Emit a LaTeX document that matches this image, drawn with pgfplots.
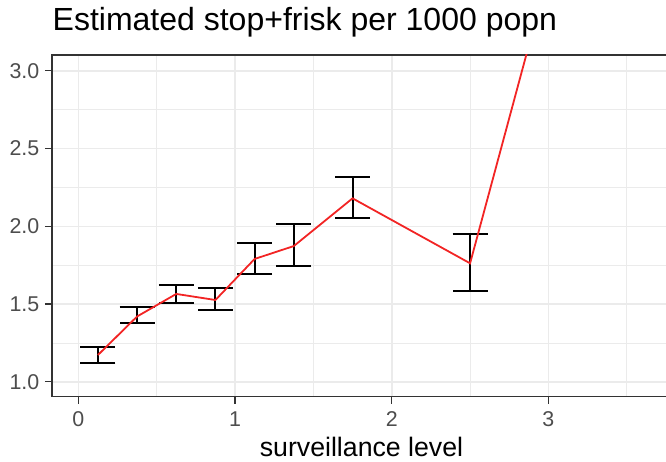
\documentclass[border=0pt]{standalone}
\usepackage{fontspec}
\setmainfont{Liberation Sans}
\usepackage{pgfplots}
\usepackage{pgfplotstable}
\pgfplotsset{compat=1.18}

\definecolor{gridgrey}{HTML}{EBEBEB}
\definecolor{bordergrey}{HTML}{333333}
\definecolor{ticktext}{HTML}{4D4D4D}
\definecolor{lineRed}{HTML}{F22424}

% surveillance level, estimate, upper and lower half-widths of the interval
\pgfplotstableread{
x     y      ep     em
0.125 1.172  0.054  0.053
0.375 1.420  0.063  0.044
0.625 1.565  0.059  0.056
0.875 1.526  0.075  0.064
1.125 1.790  0.101  0.099
1.375 1.873  0.142  0.130
1.750 2.180  0.137  0.125
2.500 1.762  0.188  0.180
3.500 5.500  0.600  0.500
}\estimates

\begin{document}
\begin{tikzpicture}[x=1pt,y=1pt]
\begin{axis}[
  at={(0pt,0pt)}, anchor=south west,
  scale only axis,
  width=616pt, height=341.7pt,
  xmin=-0.168, xmax=3.763,
  ymin=0.904, ymax=3.102,
  xtick={0,1,2,3},
  minor xtick={0.5,1.5,2.5,3.5},
  ytick={1,1.5,2,2.5,3},
  minor ytick={1.25,1.75,2.25,2.75},
  grid=both,
  major grid style={gridgrey, line width=1.6pt},
  minor grid style={gridgrey, line width=0.8pt},
  tick pos=left,
  tick align=outside,
  major tick length=7pt,
  minor tick length=0pt,
  tick style={bordergrey, line width=1.2pt},
  axis line style={bordergrey, line width=1.2pt},
  /pgf/number format/assume math mode=true,
  ticklabel style={font=\fontsize{21.4}{24}\selectfont, text=ticktext, inner sep=0pt},
  yticklabel style={anchor=east, xshift=-5.5pt,
    /pgf/number format/.cd, fixed, fixed zerofill, precision=1},
  xticklabel style={anchor=north, yshift=-8pt},
  clip=true,
]
% interval bars
\addplot [black, mark=none, draw opacity=0, forget plot,
  error bars/.cd, y dir=both, y explicit,
  error mark=|,
  error bar style={black, draw opacity=1, line width=2pt},
  error mark options={black, draw opacity=1, line width=2pt, mark size=17.5pt}]
  table [x=x, y=y, y error plus=ep, y error minus=em] {\estimates};
% estimates
\addplot [lineRed, line width=1.8pt, mark=none] table [x=x, y=y] {\estimates};
\end{axis}
\node[anchor=base west, inner sep=0pt, font=\fontsize{32}{38}\selectfont] at (0.5pt,366pt) {Estimated stop+frisk per 1000 popn};
\node[anchor=base, inner sep=0pt, font=\fontsize{26.7}{32}\selectfont] at (309.5pt,-60pt) {surveillance level};
\pgfresetboundingbox
\useasboundingbox (-52pt,-64.3pt) rectangle (614pt,396.7pt);
\end{tikzpicture}
\end{document}
